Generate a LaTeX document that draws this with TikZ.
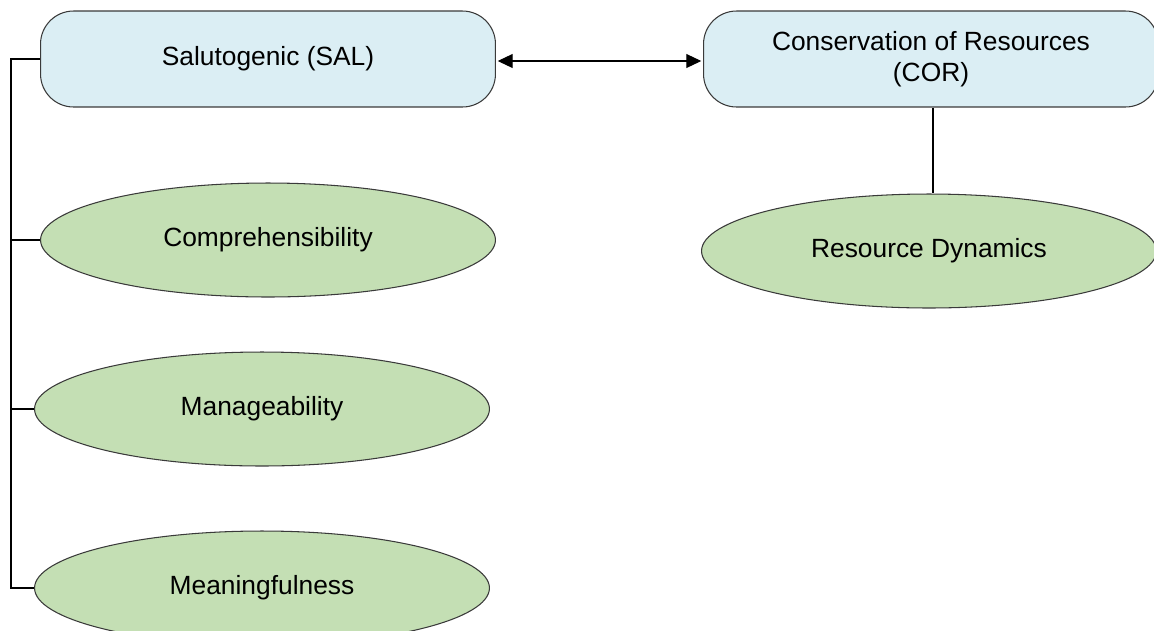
\documentclass[tikz,border=0pt]{standalone}
\usepackage{fontspec}
\setmainfont{Liberation Sans}
\usetikzlibrary{arrows.meta,shapes.geometric,positioning}
\definecolor{modelblue}{HTML}{DBEEF4}
\definecolor{factorgreen}{HTML}{C4DFB4}
\definecolor{outline}{HTML}{3A3A3A}

\begin{document}
\begin{tikzpicture}[
    x=0.02cm, y=-0.02cm,
    font=\fontsize{15}{18}\selectfont,
    model/.style={draw=outline, fill=modelblue, line width=0.6pt, rounded corners=0.66cm,
        minimum width=9.1cm, minimum height=1.92cm, inner sep=0pt, align=center},
    factor/.style={ellipse, draw=outline, fill=factorgreen, line width=0.6pt,
        minimum width=9.1cm, minimum height=2.28cm, inner sep=0pt},
    link/.style={black, line width=0.6pt},
    both/.style={link, {Triangle[length=0.3cm, width=0.28cm]}-{Triangle[length=0.3cm, width=0.28cm]}}
]
\useasboundingbox (0,0) rectangle (1154,630);
\clip (0,0) rectangle (1154,630);

% -------- the two models --------
\node[model] (sal) at (268,59) {Salutogenic (SAL)};
\node[model] (cor) at (931,59) {Conservation of Resources\\(COR)};

% -------- their factors --------
\node[factor] (comp) at (268,240) {Comprehensibility};
\node[factor] (mana) at (262,409) {Manageability};
\node[factor] (mean) at (262,588) {Meaningfulness};
\node[factor] (res)  at (929,251) {Resource Dynamics};

% -------- connectors --------
\coordinate (rail) at (11,59);
\draw[link] (sal.west) -- (rail) |- (mean.west);
\draw[link] (comp.west) -- (comp.west -| rail);
\draw[link] (mana.west) -- (mana.west -| rail);

\draw[both, shorten <=1pt, shorten >=1pt] ([yshift=-0.04cm]sal.east) -- ([yshift=-0.04cm]cor.west);
\draw[link] ([xshift=0.04cm]cor.south) -- ([xshift=0.04cm]cor.south |- res.north);

\end{tikzpicture}
\end{document}
